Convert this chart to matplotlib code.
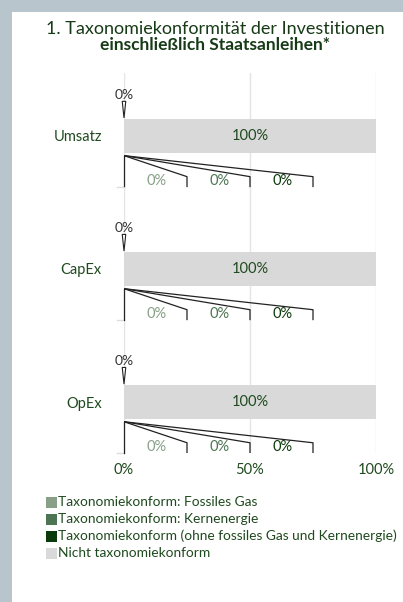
import matplotlib
matplotlib.use('Agg')
import matplotlib.pyplot as plt
from matplotlib.patches import Rectangle, Polygon

# Daten
categories = ['Umsatz', 'CapEx', 'OpEx']
fossiles_gas = [0, 0, 0]
kernenergie = [0, 0, 0]
ohne_gas_kern = [0, 0, 0]
nicht_konform = [100, 100, 100]
tick_values = [0, 50, 100]
tick_labels = ['0%', '50%', '100%']
legend_labels = ['Taxonomiekonform: Fossiles Gas',
                 'Taxonomiekonform: Kernenergie',
                 'Taxonomiekonform (ohne fossiles Gas und Kernenergie)',
                 'Nicht taxonomiekonform']

# Farben
c_gas = '#87a087'
c_kern = '#4d7553'
c_ohne = '#0b3a0b'
c_nicht = '#d9d9d9'
c_text = '#1f4a1f'
c_title = '#173a17'
c_border = '#b9c5cd'

plt.rcParams['font.family'] = ['Lato', 'DejaVu Sans']

W, H = 403, 602
fig = plt.figure(figsize=(W / 100, H / 100), dpi=100)
fig.patch.set_facecolor(c_border)
fig.patches.append(Rectangle((12 / W, 0), 1, 1 - 12 / H, transform=fig.transFigure,
                             facecolor='white', edgecolor='none', zorder=-1))

fig.text(215 / W, 1 - 29.5 / H, '1. Taxonomiekonformität der Investitionen',
         ha='center', va='center', fontsize=13, color=c_title)
fig.text(215 / W, 1 - 45.5 / H, 'einschließlich Staatsanleihen*',
         ha='center', va='center', fontsize=12.5, color=c_title, fontweight='bold')

ax_top, ax_bot = 73, 453
ax = fig.add_axes([124 / W, 1 - ax_bot / H, 252 / W, (ax_bot - ax_top) / H])
ax.set_zorder(2)
ax.patch.set_visible(False)
ax.set_xlim(0, 100)
ax.set_ylim(2.383, -0.473)
for s in ax.spines.values():
    s.set_visible(False)
ax.set_xticks(tick_values)
ax.set_xticklabels(tick_labels, color=c_text, fontsize=10.5)
ax.tick_params(axis='x', length=0, pad=7)
ax.set_yticks(range(len(categories)))
ax.set_yticklabels(categories, color=c_text, fontsize=10.5)
ax.tick_params(axis='y', length=0, pad=16)
ax.grid(axis='x', color='#e4e4e4', linewidth=1)
ax.set_axisbelow(True)

ypos = list(range(len(categories)))
bh = 0.25
left = [0, 0, 0]
for vals, col in [(fossiles_gas, c_gas), (kernenergie, c_kern), (ohne_gas_kern, c_ohne)]:
    ax.barh(ypos, vals, left=left, height=bh, color=col)
    left = [l + v for l, v in zip(left, vals)]
ax.barh(ypos, nicht_konform, left=left, height=bh, color=c_nicht, zorder=2)

bracket_x = [25, 50, 75]
sub_cols = [c_gas, c_kern, c_ohne]
for i, y in enumerate(ypos):
    # Nicht konform Beschriftung
    ax.text(left[i] + nicht_konform[i] / 2, y, f'{nicht_konform[i]:.0f}%',
            ha='center', va='center', fontsize=10.5, color=c_text, zorder=3)
    # Gesamt taxonomiekonform oben
    total = fossiles_gas[i] + kernenergie[i] + ohne_gas_kern[i]
    ax.text(total, y - 0.31, f'{total:.0f}%', ha='center', va='center',
            fontsize=10, color='#333333')
    ax.add_patch(Polygon([(total - 0.7, y - 0.26), (total + 0.7, y - 0.26), (total, y - 0.135)],
                         closed=True, facecolor='white', edgecolor='#222222', lw=0.8,
                         zorder=4, clip_on=False))
    # Aufteilung unten
    y0, y1, y2 = y + 0.148, y + 0.306, y + 0.38
    ax.plot([0, 0], [y0, y2], color='#222222', lw=0.9, zorder=4, clip_on=False)
    sub_vals = [fossiles_gas[i], kernenergie[i], ohne_gas_kern[i]]
    prev = 0
    for bx, val, col in zip(bracket_x, sub_vals, sub_cols):
        ax.plot([0, bx, bx], [y0, y1, y2], color='#222222', lw=0.9, zorder=4)
        ax.text((prev + bx) / 2 + 0.5, y + 0.335, f'{val:.0f}%', ha='center', va='center',
                fontsize=10.5, color=col)
        prev = bx
    ax.plot([-2.8, 0], [y + 0.383, y + 0.383], color='#dddddd', lw=1, clip_on=False)

# Legende
for k, (lab, col) in enumerate(zip(legend_labels, [c_gas, c_kern, c_ohne, c_nicht])):
    yc = 502 + k * 17
    fig.patches.append(Rectangle((46 / W, 1 - (yc + 5.5) / H), 11 / W, 11 / H,
                                 transform=fig.transFigure, facecolor=col, edgecolor='none'))
    fig.text(58 / W, 1 - yc / H, lab, ha='left', va='center', fontsize=9.9, color=c_text)

fig.savefig('out.png', dpi=100, facecolor=fig.get_facecolor())
